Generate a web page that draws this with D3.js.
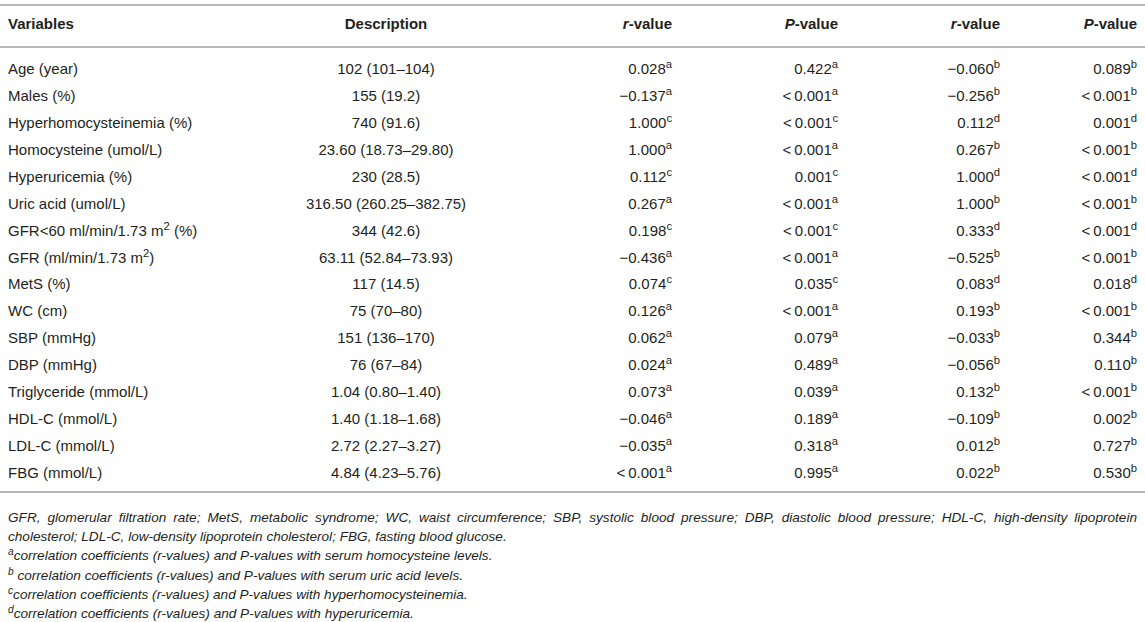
<!DOCTYPE html>
<html>
<head>
<meta charset="utf-8">
<script src="https://cdn.jsdelivr.net/npm/d3@7"></script>
<style>
  body { margin: 0; background: #fff; }
  text { font-family: "Liberation Sans", Arial, Helvetica, sans-serif; fill: #231f20; }
</style>
</head>
<body>
<div id="tablediv"></div>
<script>
var width = 1145, height = 622;

// table data
var headers = ["Variables", "Description", "r-value", "P-value", "r-value", "P-value"];

var variables = ["Age (year)", "Males (%)", "Hyperhomocysteinemia (%)", "Homocysteine (umol/L)",
  "Hyperuricemia (%)", "Uric acid (umol/L)", "GFR<60 ml/min/1.73 m^2 (%)", "GFR (ml/min/1.73 m^2)",
  "MetS (%)", "WC (cm)", "SBP (mmHg)", "DBP (mmHg)", "Triglyceride (mmol/L)", "HDL-C (mmol/L)",
  "LDL-C (mmol/L)", "FBG (mmol/L)"];

var descriptions = ["102 (101–104)", "155 (19.2)", "740 (91.6)", "23.60 (18.73–29.80)", "230 (28.5)",
  "316.50 (260.25–382.75)", "344 (42.6)", "63.11 (52.84–73.93)", "117 (14.5)", "75 (70–80)",
  "151 (136–170)", "76 (67–84)", "1.04 (0.80–1.40)", "1.40 (1.18–1.68)", "2.72 (2.27–3.27)",
  "4.84 (4.23–5.76)"];

var rHcy = ["0.028", "−0.137", "1.000", "1.000", "0.112", "0.267", "0.198", "−0.436",
  "0.074", "0.126", "0.062", "0.024", "0.073", "−0.046", "−0.035", "<\u20090.001"];
var pHcy = ["0.422", "<\u20090.001", "<\u20090.001", "<\u20090.001", "0.001", "<\u20090.001", "<\u20090.001", "<\u20090.001",
  "0.035", "<\u20090.001", "0.079", "0.489", "0.039", "0.189", "0.318", "0.995"];
var supHcy = ["a", "a", "c", "a", "c", "a", "c", "a", "c", "a", "a", "a", "a", "a", "a", "a"];

var rUa = ["−0.060", "−0.256", "0.112", "0.267", "1.000", "1.000", "0.333", "−0.525",
  "0.083", "0.193", "−0.033", "−0.056", "0.132", "−0.109", "0.012", "0.022"];
var pUa = ["0.089", "<\u20090.001", "0.001", "<\u20090.001", "<\u20090.001", "<\u20090.001", "<\u20090.001", "<\u20090.001",
  "0.018", "<\u20090.001", "0.344", "0.110", "<\u20090.001", "0.002", "0.727", "0.530"];
var supUa = ["b", "b", "d", "b", "d", "b", "d", "b", "d", "b", "b", "b", "b", "b", "b", "b"];

var notes = [
  "GFR, glomerular filtration rate; MetS, metabolic syndrome; WC, waist circumference; SBP, systolic blood pressure; DBP, diastolic blood pressure; HDL-C, high-density lipoprotein",
  "cholesterol; LDL-C, low-density lipoprotein cholesterol; FBG, fasting blood glucose.",
  "^acorrelation coefficients (r-values) and P-values with serum homocysteine levels.",
  "^b correlation coefficients (r-values) and P-values with serum uric acid levels.",
  "^ccorrelation coefficients (r-values) and P-values with hyperhomocysteinemia.",
  "^dcorrelation coefficients (r-values) and P-values with hyperuricemia."
];

var svg = d3.select("#tablediv")
  .append("svg")
  .attr("width", width)
  .attr("height", height);

var yRow = d3.scalePoint()
  .domain(d3.range(variables.length))
  .range([74, 478]);

var yNote = d3.scalePoint()
  .domain(d3.range(notes.length))
  .range([522, 618]);

// column anchors
var cols = [
  {x: 8, anchor: "start"},
  {x: 386, anchor: "middle"},
  {x: 672, anchor: "end"},
  {x: 838, anchor: "end"},
  {x: 1000, anchor: "end"},
  {x: 1137, anchor: "end"}
];

// write text where "^x" marks a superscript character
function addRich(sel, str) {
  var parts = str.split(/\^(.)/);
  parts.forEach(function(p, i) {
    if (p === "") return;
    if (i % 2 == 1) {
      sel.append("tspan").attr("baseline-shift", "super").style("font-size", "0.75em").text(p);
    } else {
      sel.append("tspan").text(p);
    }
  });
}

function hline(y) {
  svg.append("line")
    .attr("x1", 0).attr("x2", width)
    .attr("y1", y).attr("y2", y)
    .attr("stroke", "#b7b7b7")
    .attr("stroke-width", 2);
}

hline(5);
hline(47);
hline(492);

// header
var head = svg.append("g").attr("class", "head");
headers.forEach(function(h, i) {
  var t = head.append("text")
    .attr("x", cols[i].x)
    .attr("y", 29)
    .attr("text-anchor", cols[i].anchor)
    .style("font-size", "15px")
    .style("font-weight", "bold");
  if (h.indexOf("-value") > 0) {
    t.append("tspan").style("font-style", "italic").text(h.split("-")[0]);
    t.append("tspan").text("-value");
  } else {
    t.text(h);
  }
});

// body rows
var rows = svg.append("g").attr("class", "rows")
  .selectAll("g")
  .data(variables)
  .enter().append("g")
  .attr("transform", (d, i) => "translate(0," + yRow(i) + ")");

rows.each(function(d, i) {
  var g = d3.select(this);
  var cells = [
    d,
    descriptions[i],
    rHcy[i] + "^" + supHcy[i],
    pHcy[i] + "^" + supHcy[i],
    rUa[i] + "^" + supUa[i],
    pUa[i] + "^" + supUa[i]
  ];
  cells.forEach(function(c, j) {
    var t = g.append("text")
      .attr("x", cols[j].x)
      .attr("text-anchor", cols[j].anchor)
      .style("font-size", "15px");
    addRich(t, c);
  });
});

// footnotes
notes.forEach(function(n, i) {
  var t = svg.append("text")
    .attr("x", 8)
    .attr("y", yNote(i))
    .style("font-size", "13.6px")
    .style("font-style", "italic");
  addRich(t, n);
  // first line of the wrapped paragraph is justified to the full width
  if (i == 0) {
    var w = t.node().getComputedTextLength();
    var gaps = n.split(" ").length - 1;
    t.style("word-spacing", ((1137 - 8 - w) / gaps) + "px");
  }
});
</script>
</body>
</html>
